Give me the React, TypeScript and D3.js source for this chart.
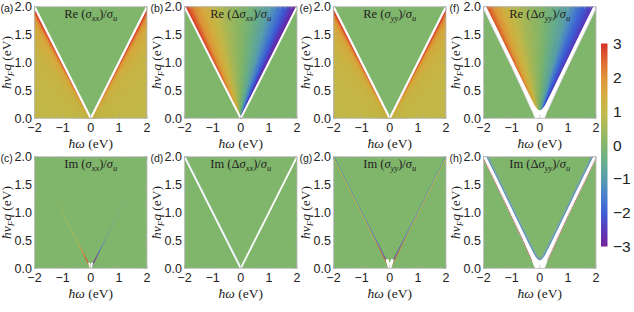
import React from 'react';
import * as d3 from 'd3';

const W = 634, H = 312;

// axis ticks
const omegaTicks = [-2, -1, 0, 1, 2];
const qTicks = [0, 0.5, 1, 1.5, 2];
const cbTicks = [3, 2, 1, 0, -1, -2, -3];

// colour map (value -> colour)
const cmapValues = [-3, -2.5, -2, -1.5, -1, -0.5, 0, 0.5, 1, 1.5, 2, 2.5, 3];
const cmapColors = ['#74239a', '#5a3bbb', '#3f5fd6', '#4a80cc', '#5a9db0', '#6aae8c', '#82b66c', '#a4b95c', '#c5b94b', '#d6ac40', '#df933a', '#dd6731', '#d8322b'];

// panel labels / titles
const panelLabels = ['(a)', '(b)', '(e)', '(f)', '(c)', '(d)', '(g)', '(h)'];
const panelPart = ['Re', 'Re', 'Re', 'Re', 'Im', 'Im', 'Im', 'Im'];
const panelDelta = [false, true, false, true, false, true, false, true];
const panelSub = ['xx', 'xx', 'yy', 'yy', 'xx', 'xx', 'yy', 'yy'];

// (a) Re σxx : outside the cone, value vs ratio vq/|ω|
const aRatio = [0, 0.2, 0.4, 0.6, 0.7, 0.8, 0.85, 0.9, 0.94, 0.97, 1.0];
const aValue = [1.0, 1.02, 1.06, 1.15, 1.25, 1.45, 1.6, 1.9, 2.3, 2.85, 3.0];
// (e) Re σyy
const eRatio = [0, 0.2, 0.4, 0.6, 0.7, 0.8, 0.85, 0.9, 0.94, 0.97, 1.0];
const eValue = [1.0, 1.02, 1.06, 1.15, 1.25, 1.45, 1.6, 1.9, 2.3, 2.85, 3.0];
// (b) Re Δσxx : inside the cone, value vs ω/(vq)
const bS = [-1, -0.93, -0.8, -0.5, -0.25, 0, 0.25, 0.5, 0.75, 0.9, 1];
const bValue = [3, 2.7, 1.9, 1.05, 0.5, 0.1, -0.35, -0.9, -1.8, -2.5, -3];
// (f) Re Δσyy
const fS = [-1, -0.92, -0.8, -0.6, -0.3, 0, 0.3, 0.5, 0.7, 0.88, 1];
const fValue = [3, 2.6, 1.9, 1.2, 0.55, 0.1, -0.5, -0.9, -1.7, -2.3, -2.7];
// gapped boundary in (f) and (h): inner edge and outer edge of the white band (ω ≥ 0 half)
const innerW = [0, 0.08, 0.18, 0.4, 1.0, 1.5, 1.9];
const innerQ = [0.14, 0.16, 0.23, 0.45, 1.07, 1.59, 2.0];
const outerW = [0.18, 0.28, 0.6, 1.0, 1.5, 2.03];
const outerQ = [0, 0.14, 0.5, 0.93, 1.45, 2.0];

// thin features along |ω| = vq in (c) and (g): position along the line (vq) and value / opacity
const cLeftQ = [0.05, 0.15, 0.3, 0.45, 0.8, 1.2, 1.65];
const cLeftV = [2.5, 2.8, 2.2, 1.3, 1.0, 0.8, 0.4];
const cLeftO = [0.9, 0.9, 0.8, 0.55, 0.35, 0.2, 0.0];
const cRightQ = [0.05, 0.15, 0.3, 0.45, 0.8, 1.2, 1.65];
const cRightV = [-2.8, -3, -2.2, -1.5, -1.0, -0.8, -0.5];
const cRightO = [0.9, 0.8, 0.65, 0.45, 0.3, 0.18, 0.0];

const gQ = [0.05, 0.2, 0.4, 0.6, 1.0, 1.5, 2.0];
const gOuterV = [2.8, 2.6, 2.2, 1.8, 1.6, 1.5, 1.5];
const gInnerV = [-3, -2.6, -2.2, -1.6, -1.2, -1.1, -1.1];

const cols = [34.5, 184.5, 333.5, 483.5];
const rows = [6.7, 156.7];
const PW = 112.5, PH = 111.6;
const BG = '#80b66b';

const cmap = d3.scaleLinear<string>().domain(cmapValues).range(cmapColors).interpolate(d3.interpolateRgb).clamp(true);

const serif = "'Liberation Serif', 'DejaVu Serif', serif";
const sans = "'Liberation Sans', Arial, sans-serif";

function Title({ cx, y, part, delta, sub }: any) {
  return (
    <text x={cx} y={y} textAnchor="middle" fontFamily={serif} fontSize={12.5} fill="#222">
      <tspan>{part} (</tspan>
      {delta ? <tspan>Δ</tspan> : null}
      <tspan fontStyle="italic">σ</tspan>
      <tspan fontStyle="italic" fontSize={8.5} dy={2.5}>{sub}</tspan>
      <tspan dy={-2.5}>)/</tspan>
      <tspan fontStyle="italic">σ</tspan>
      <tspan fontStyle="italic" fontSize={8.5} dy={2.5}>u</tspan>
    </text>
  );
}

function Panel({ idx }: { idx: number }) {
  const col = idx % 4, row = Math.floor(idx / 4);
  const left = cols[col], top = rows[row];
  const x = d3.scaleLinear().domain([-2, 2]).range([left, left + PW]);
  const y = d3.scaleLinear().domain([0, 2]).range([top + PH, top]);
  const clipId = `clip${idx}`;
  const line = d3.line<[number, number]>().x(d => x(d[0])).y(d => y(d[1]));
  const R = 3;
  const content: any[] = [];

  const outside = (ratios: number[], values: number[]) => {
    const f = d3.scaleLinear().domain(ratios).range(values).clamp(true);
    const n = 220;
    for (const side of [-1, 1]) {
      for (let i = 0; i < n; i++) {
        const r1 = i / n, r2 = (i + 1) / n;
        const c = cmap(f((r1 + r2) / 2));
        const p = line([[0, 0], [side * R, r1 * R], [side * R, r2 * R]]) + 'Z';
        content.push(<path key={`o${side}${i}`} d={p} fill={c} stroke={c} strokeWidth={0.5} />);
      }
    }
  };
  const inside = (ss: number[], values: number[], key: string) => {
    const f = d3.scaleLinear().domain(ss).range(values).clamp(true);
    const n = 300;
    const arr: any[] = [];
    for (let i = 0; i < n; i++) {
      const s1 = -1 + (2 * i) / n, s2 = -1 + (2 * (i + 1)) / n;
      const c = cmap(f((s1 + s2) / 2));
      const p = line([[0, 0], [s1 * R, R], [s2 * R, R]]) + 'Z';
      arr.push(<path key={`${key}${i}`} d={p} fill={c} stroke={c} strokeWidth={0.5} />);
    }
    return arr;
  };
  const vLine = (stroke: string, width: number, key: string) => (
    <path key={key} d={line([[-2.2, 2.2], [0, 0], [2.2, 2.2]])} fill="none" stroke={stroke} strokeWidth={width} />
  );
  const half = (ws: number[], qs: number[], sign: number) => ws.map((w, i) => [sign * w, qs[i]] as [number, number]);
  const innerPoly = () => {
    const right = half(innerW, innerQ, 1);
    const leftPts = half(innerW, innerQ, -1).slice(1).reverse();
    return line([...leftPts, ...right, [2.2, 2.2], [-2.2, 2.2]]) + 'Z';
  };
  const bandPoly = () => {
    const oR = half(outerW, outerQ, 1);
    const oL = half(outerW, outerQ, -1).reverse();
    const iR = half(innerW, innerQ, 1).reverse();
    const iL = half(innerW, innerQ, -1).slice(1);
    return line([...oL, ...oR, ...iR, ...iL]) + 'Z';
  };
  const gradLine = (id: string, side: number, qs: number[], vs: number[], os: number[] | null, width: number, off: number) => {
    const end = qs[qs.length - 1];
    const x1 = x(side * off), y1 = y(0), x2 = x(side * (end + off)), y2 = y(end);
    return (
      <g key={id}>
        <defs>
          <linearGradient id={id} gradientUnits="userSpaceOnUse" x1={x1} y1={y1} x2={x2} y2={y2}>
            {qs.map((q, i) => (
              <stop key={i} offset={q / end} stopColor={cmap(vs[i])} stopOpacity={os ? os[i] : 1} />
            ))}
          </linearGradient>
        </defs>
        <line x1={x1} y1={y1} x2={x2} y2={y2} stroke={`url(#${id})`} strokeWidth={width} />
      </g>
    );
  };

  if (idx === 0 || idx === 2) {
    outside(idx === 0 ? aRatio : eRatio, idx === 0 ? aValue : eValue);
    content.push(vLine('#ffffff', 2.2, 'wl'));
  } else if (idx === 1) {
    content.push(...inside(bS, bValue, 'b'));
    content.push(vLine('#ffffff', 2.0, 'wl'));
  } else if (idx === 3) {
    content.push(
      <g key="fin" clipPath={`url(#inner${idx})`}>{inside(fS, fValue, 'f')}</g>
    );
    content.push(<path key="band" d={bandPoly()} fill="#fff" />);
    content.push(<path key="bandL" d={line(half(outerW, outerQ, -1).slice(1))} fill="none" stroke="#ecdff2" strokeWidth={1} />);
    content.push(<path key="bandR" d={line(half(outerW, outerQ, 1).slice(1))} fill="none" stroke="#ecdff2" strokeWidth={1} />);
  } else if (idx === 4) {
    content.push(gradLine('cl4', -1, cLeftQ, cLeftV, cLeftO, 1.2, 0));
    content.push(gradLine('cr4', 1, cRightQ, cRightV, cRightO, 1.2, 0));
    content.push(<path key="wn" d={line([[-0.06, 0.1], [0, 0], [0.06, 0.1]])} fill="none" stroke="#fff" strokeWidth={1.8} />);
  } else if (idx === 5) {
    content.push(vLine('#ffffff', 1.8, 'wl'));
    content.push(<path key="tint" d={line([[-2.2, 2.2], [0, 0]])} fill="none" stroke="#c8d8f0" strokeWidth={0.6} transform="translate(1,0)" />);
  } else if (idx === 6) {
    for (const side of [-1, 1]) {
      content.push(gradLine(`go${side}`, side, gQ, gOuterV, null, 0.8, 0.02));
      content.push(gradLine(`gi${side}`, side, gQ, gInnerV, null, 0.8, -0.02));
    }
    content.push(<path key="wn" d={line([[-0.1, 0.16], [0, 0], [0.1, 0.16]])} fill="none" stroke="#fff" strokeWidth={3} />);
  } else if (idx === 7) {
    const iR = half(innerW, innerQ, 1);
    const iL = half(innerW, innerQ, -1).slice(1).reverse();
    const innerPath = line([...iL, ...iR]) as string;
    content.push(<path key="halo2" d={innerPath} fill="none" stroke="#78aab8" strokeWidth={5} opacity={0.5} />);
    content.push(<path key="halo" d={innerPath} fill="none" stroke="#5a86d2" strokeWidth={2.4} opacity={0.75} />);
    content.push(<path key="band" d={bandPoly()} fill="#fff" />);
    for (const sign of [-1, 1]) {
      content.push(<path key={`pk${sign}`} d={line(half(outerW, outerQ, sign).slice(1))} fill="none" stroke="#d9708a" strokeWidth={1.1} strokeDasharray="1.5 1" />);
    }
  }

  // frame ticks
  const ticks: any[] = [];
  const xMinor = d3.range(-2, 2.001, 0.2);
  const yMinor = d3.range(0, 2.001, 0.1);
  xMinor.forEach((v, i) => {
    const major = Math.abs(v - Math.round(v)) < 1e-6;
    const len = major ? 3.5 : 2;
    ticks.push(<line key={`xb${i}`} x1={x(v)} x2={x(v)} y1={top + PH} y2={top + PH - len} stroke="#aaa" strokeWidth={0.6} />);
    ticks.push(<line key={`xt${i}`} x1={x(v)} x2={x(v)} y1={top} y2={top + len} stroke="#aaa" strokeWidth={0.6} />);
  });
  yMinor.forEach((v, i) => {
    const major = Math.abs(v * 2 - Math.round(v * 2)) < 1e-6;
    const len = major ? 3.5 : 2;
    ticks.push(<line key={`yl${i}`} y1={y(v)} y2={y(v)} x1={left} x2={left + len} stroke="#aaa" strokeWidth={0.6} />);
    ticks.push(<line key={`yr${i}`} y1={y(v)} y2={y(v)} x1={left + PW} x2={left + PW - len} stroke="#aaa" strokeWidth={0.6} />);
  });

  return (
    <g>
      <defs>
        <clipPath id={clipId}><rect x={left} y={top} width={PW} height={PH} /></clipPath>
        {idx === 3 ? <clipPath id={`inner${idx}`}><path d={innerPoly()} /></clipPath> : null}
      </defs>
      <g clipPath={`url(#${clipId})`}>
        <rect x={left} y={top} width={PW} height={PH} fill={BG} />
        {content}
      </g>
      <rect x={left} y={top} width={PW} height={PH} fill="none" stroke="#bbb" strokeWidth={0.8} />
      {ticks}
      <Title cx={left + PW / 2} y={top + 11.5} part={panelPart[idx]} delta={panelDelta[idx]} sub={panelSub[idx]} />
      <text x={left - 34} y={top + 5.5} fontFamily={sans} fontSize={10.5} fill="#222">{panelLabels[idx]}</text>
      {qTicks.map(v => (
        <text key={`qt${v}`} x={left - 2.5} y={y(v) + 4.2} textAnchor="end" fontFamily={sans} fontSize={12.5} fill="#222">{v.toFixed(1)}</text>
      ))}
      {omegaTicks.map(v => (
        <text key={`wt${v}`} x={x(v)} y={top + PH + 14} textAnchor="middle" fontFamily={sans} fontSize={12.5} fill="#222">{v < 0 ? `\u2212${-v}` : `${v}`}</text>
      ))}
      <text x={left + PW / 2} y={top + PH + 29.5} textAnchor="middle" fontFamily={serif} fontSize={13.5} fill="#222">
        <tspan fontStyle="italic">ħω</tspan><tspan> (eV)</tspan>
      </text>
      <text transform={`translate(${left - 23.5},${top + PH / 2}) rotate(-90)`} textAnchor="middle" fontFamily={serif} fontSize={13.5} fill="#222">
        <tspan fontStyle="italic">ħv</tspan>
        <tspan fontStyle="italic" fontSize={9} dy={2.5}>F</tspan>
        <tspan fontStyle="italic" dy={-2.5}>q</tspan>
        <tspan> (eV)</tspan>
      </text>
    </g>
  );
}

function ColorBar() {
  const x0 = 601, w = 6.5;
  const yScale = d3.scaleLinear().domain([-3, 3]).range([246.5, 43.5]);
  return (
    <g>
      <defs>
        <linearGradient id="cbgrad" x1="0" y1="1" x2="0" y2="0">
          {cmapValues.map((v, i) => (
            <stop key={i} offset={(v + 3) / 6} stopColor={cmapColors[i]} />
          ))}
        </linearGradient>
      </defs>
      <rect x={x0} y={yScale(3)} width={w} height={yScale(-3) - yScale(3)} fill="url(#cbgrad)" />
      {cbTicks.map(v => (
        <text key={v} x={x0 + 12} y={yScale(v) + 5.5} fontFamily={sans} fontSize={15.5} fill="#222">
          {v < 0 ? `\u2212${-v}` : `${v}`}
        </text>
      ))}
    </g>
  );
}

export default function App() {
  return (
    <svg width={W} height={H} style={{ position: 'absolute', left: 0, top: 0, background: '#fff' }}>
      <rect x={0} y={0} width={W} height={H} fill="#fff" />
      {d3.range(8).map(i => <Panel key={i} idx={i} />)}
      <ColorBar />
    </svg>
  );
}
